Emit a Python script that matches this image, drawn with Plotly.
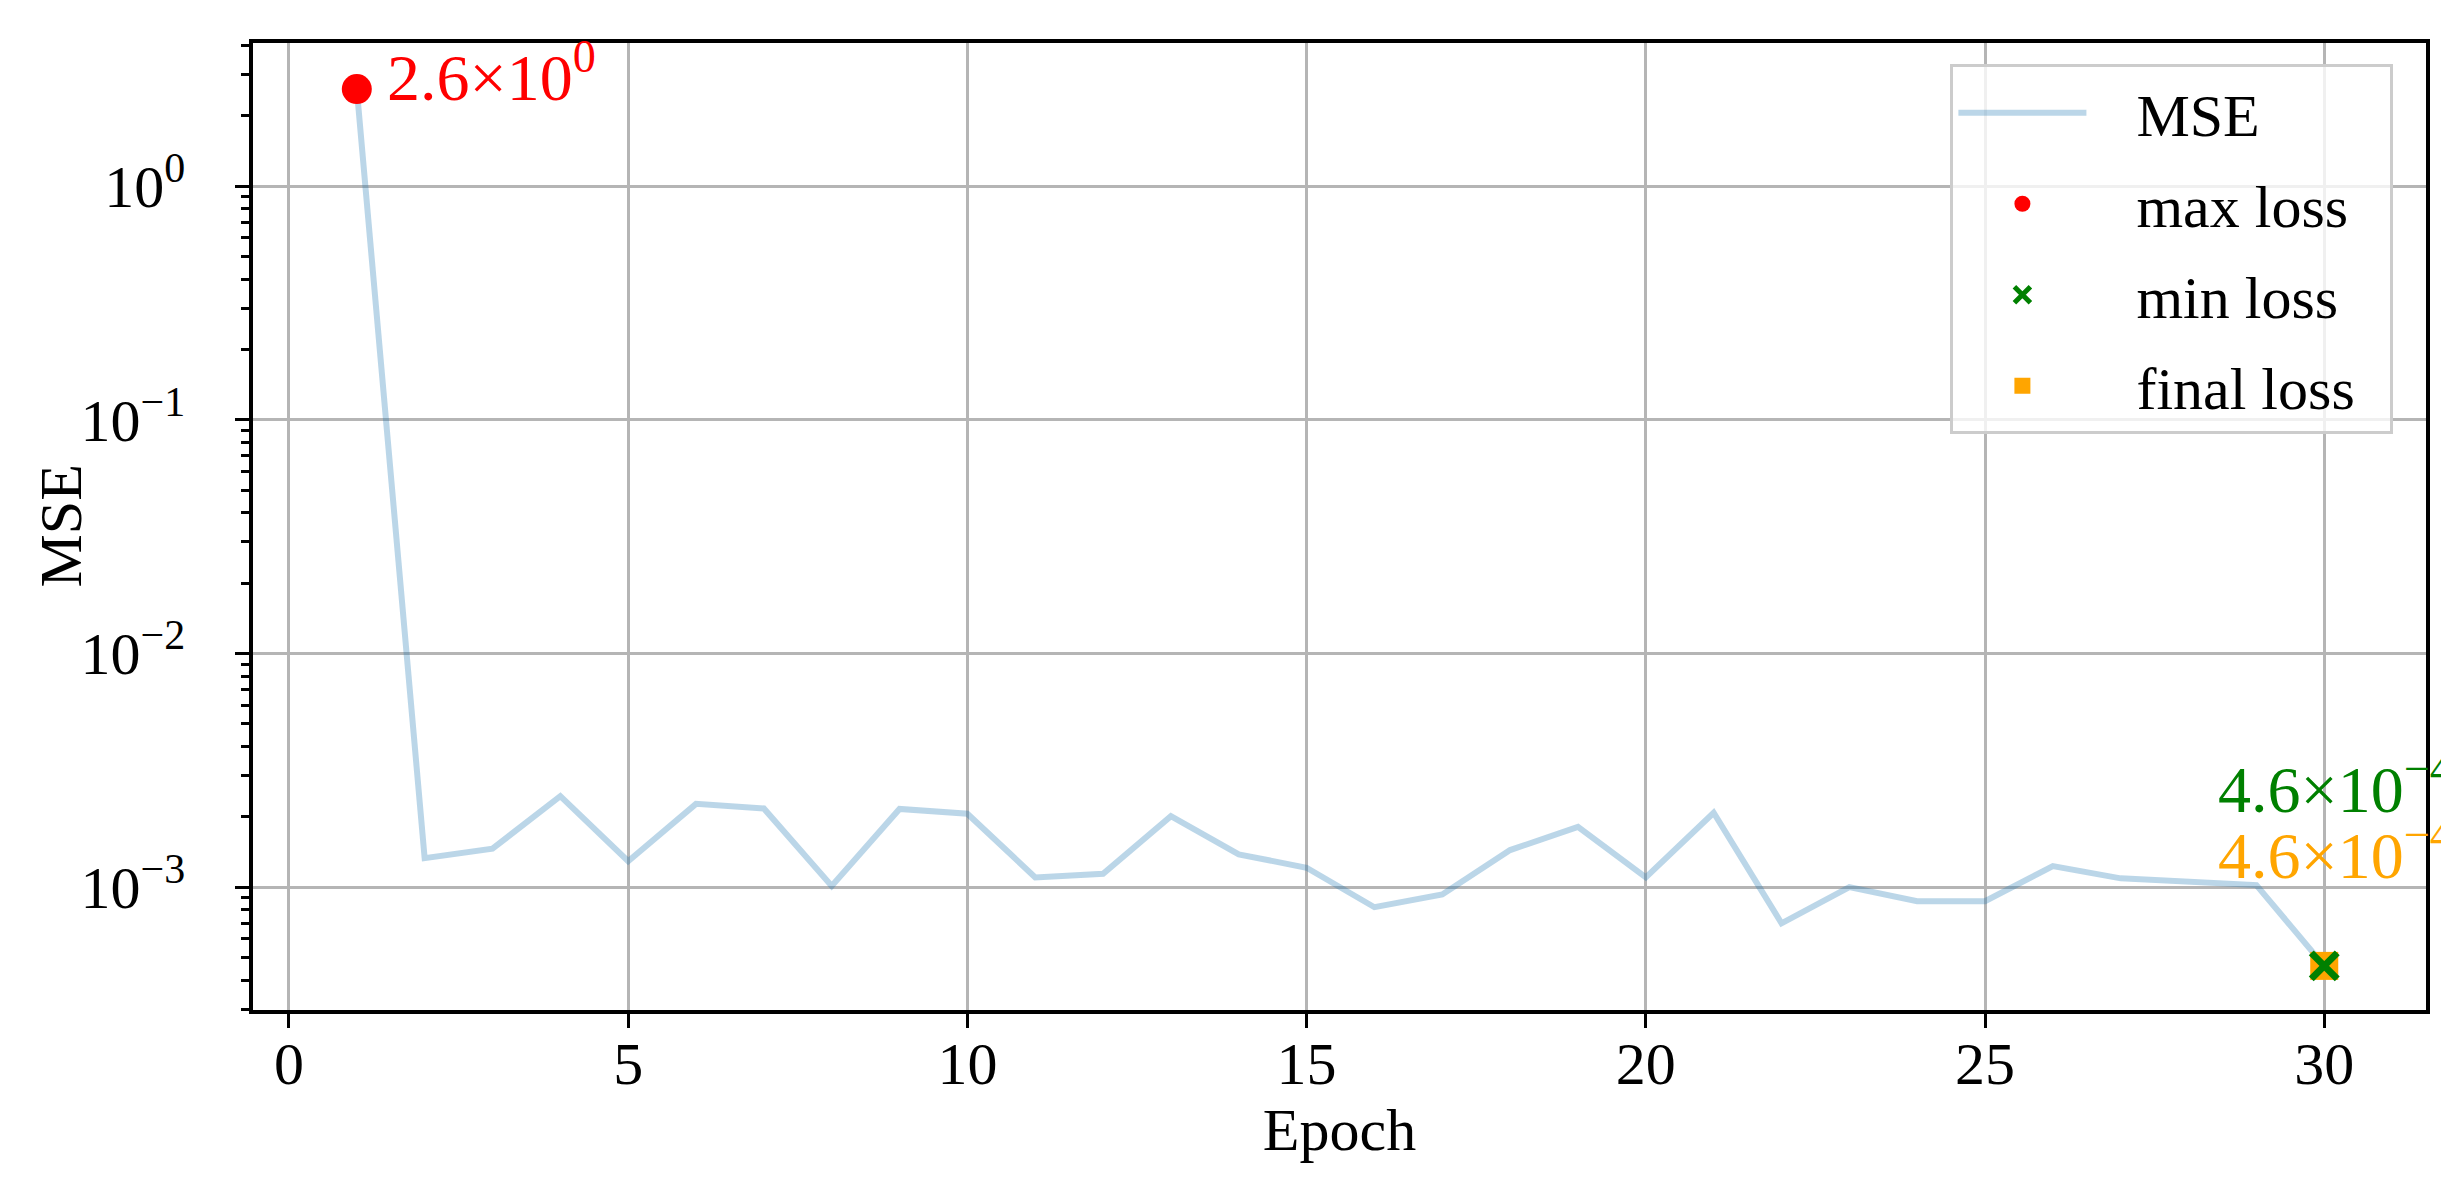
import numpy as np
import plotly.graph_objects as go

# training curve
epochs = list(range(1, 31))
mse = [2.6, 1.33e-3, 1.46e-3, 2.45e-3, 1.29e-3, 2.27e-3, 2.17e-3, 1.01e-3, 2.16e-3, 2.06e-3,
       1.10e-3, 1.14e-3, 2.01e-3, 1.38e-3, 1.21e-3, 8.2e-4, 9.3e-4, 1.44e-3, 1.81e-3, 1.10e-3,
       2.08e-3, 7.0e-4, 1.0e-3, 8.7e-4, 8.7e-4, 1.23e-3, 1.09e-3, 1.06e-3, 1.02e-3, 4.6e-4]

x_ticks = [0, 5, 10, 15, 20, 25, 30]
y_ticks = [1e-3, 1e-2, 1e-1, 1e0]
y_ticktext = ["10<sup>−3</sup>", "10<sup>−2</sup>", "10<sup>−1</sup>", "10<sup>0</sup>"]

FONT = "Liberation Serif"
NB = "\u00a0"


def leg(name):
    # pad legend labels so the spacing matches the matplotlib legend
    return NB * 3 + name + NB * 2


i_max = int(np.argmax(mse))
i_min = int(np.argmin(mse))
i_fin = len(mse) - 1


def sci(v):
    e = int(np.floor(np.log10(v)))
    m = v / 10 ** e
    return f"{m:.1f}×10<sup>{str(e).replace('-', '−')}</sup>"


fig = go.Figure()

fig.add_trace(go.Scatter(
    x=epochs, y=mse, mode="lines", name=leg("MSE"),
    line=dict(color="rgba(31,119,180,0.3)", width=6),
    legendgroup="a", legendrank=1,
))
fig.add_trace(go.Scatter(
    x=[epochs[i_max]], y=[mse[i_max]], mode="markers", name=leg("max loss"),
    marker=dict(color="red", size=30, symbol="circle"),
    legendgroup="b", legendrank=2,
))
# final drawn before min so the green cross sits on top
fig.add_trace(go.Scatter(
    x=[epochs[i_fin]], y=[mse[i_fin]], mode="markers", name=leg("final loss"),
    marker=dict(color="orange", size=28, symbol="square"),
    legendgroup="d", legendrank=4,
))
fig.add_trace(go.Scatter(
    x=[epochs[i_min]], y=[mse[i_min]], mode="markers", name=leg("min loss"),
    marker=dict(color="green", size=26, symbol="x-thin", line=dict(color="green", width=7)),
    legendgroup="c", legendrank=3,
))

fig.add_annotation(x=epochs[i_max], y=np.log10(mse[i_max]), text=sci(mse[i_max]),
                   showarrow=False, xanchor="left", yanchor="middle", xshift=28, yshift=17,
                   font=dict(family=FONT, size=66, color="red"))
fig.add_annotation(x=epochs[i_min], y=np.log10(mse[i_min]), text=sci(mse[i_min]),
                   showarrow=False, xanchor="left", yanchor="middle", xshift=-108, yshift=181,
                   font=dict(family=FONT, size=66, color="green"))
fig.add_annotation(x=epochs[i_fin], y=np.log10(mse[i_fin]), text=sci(mse[i_fin]),
                   showarrow=False, xanchor="left", yanchor="middle", xshift=-108, yshift=115,
                   font=dict(family=FONT, size=66, color="orange"))

# y title placed by hand, left of the tick labels
fig.add_annotation(xref="paper", yref="paper", x=-193 / 2173, y=0.5, text="MSE",
                   textangle=-90, showarrow=False, xanchor="center", yanchor="middle",
                   font=dict(family=FONT, size=60, color="black"))

fig.update_layout(
    width=2449, height=1192,
    margin=dict(l=245, r=31, t=35, b=190),
    paper_bgcolor="white", plot_bgcolor="white",
    font=dict(family=FONT, size=60, color="black"),
    showlegend=True,
    legend=dict(
        x=0.985, y=0.978, xanchor="right", yanchor="top",
        bgcolor="rgba(255,255,255,0.8)", bordercolor="#cccccc", borderwidth=3,
        font=dict(family=FONT, size=60), traceorder="grouped", tracegroupgap=10,
        itemwidth=128,
    ),
)

fig.update_xaxes(
    range=[-0.53, 31.5], tickvals=x_ticks,
    showline=True, linecolor="black", linewidth=3.5, mirror=True,
    ticks="outside", ticklen=14, tickwidth=3, tickcolor="black",
    ticklabelstandoff=-16,
    showgrid=True, gridcolor="#b5b5b5", gridwidth=3, zeroline=False,
    title=dict(text="Epoch", font=dict(family=FONT, size=60), standoff=5),
)
fig.update_yaxes(
    type="log", range=[-3.526, 0.612],
    tickvals=y_ticks, ticktext=y_ticktext,
    showline=True, linecolor="black", linewidth=3.5, mirror=True,
    ticks="outside", ticklen=14, tickwidth=3, tickcolor="black",
    ticklabelstandoff=38,
    showgrid=True, gridcolor="#b5b5b5", gridwidth=3, zeroline=False,
    minor=dict(ticks="outside", ticklen=8, tickwidth=2.5, tickcolor="black",
               dtick="D1", showgrid=False),
)

fig.write_html("out.html")
